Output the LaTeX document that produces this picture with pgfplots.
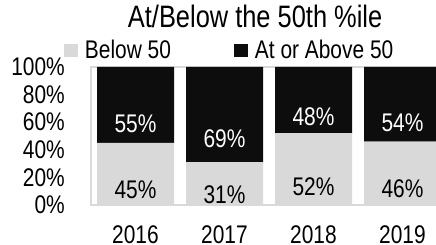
\documentclass[border=0pt]{standalone}
\usepackage{pgfplots}
\pgfplotsset{compat=1.18}
\usepackage{pgfplotstable}
\usepackage{fontspec}
\setmainfont{Liberation Sans}[FakeStretch=0.82]
\definecolor{lgray}{HTML}{D9D9D9}
\definecolor{dblack}{HTML}{0D0D0D}
\definecolor{framegray}{HTML}{D9D9D9}
\newcommand\lab{\fontsize{25.5}{28}\selectfont}
\newcommand\ttl{\fontsize{31}{34}\selectfont}
\pgfplotstableread{
x below above
0 45 55
1 31 69
2 52 48
3 46 54
}\data
\begin{document}
\begin{tikzpicture}
\begin{axis}[
  at={(91pt,40pt)}, anchor=south west,
  scale only axis, width=356pt, height=138pt,
  xmin=-0.5, xmax=3.5, ymin=0, ymax=100,
  ybar stacked, bar width=77pt,
  /pgf/number format/assume math mode=true,
  xtick={0,1,2,3}, xticklabels={2016,2017,2018,2019},
  ytick={0,20,40,60,80,100},
  yticklabel={\pgfmathprintnumber{\tick}\%},
  major tick length=0pt,
  tick label style={font=\lab},
  y tick label style={inner sep=0pt, anchor=east, xshift=-26pt},
  x tick label style={inner sep=0pt, anchor=north, yshift=-20pt},
  axis line style={draw=framegray, line width=1.8pt},
  title={At/Below the 50th \%ile},
  title style={at={(0.461,1.246)}, anchor=base, font=\ttl, inner sep=0pt},
  legend columns=2,
  legend style={at={(-0.085,1.12)}, anchor=west, draw=none, fill=none, font=\lab,
    nodes={inner sep=1pt},
    /tikz/every odd column/.append style={column sep=6pt},
    /tikz/every even column/.append style={column sep=62pt}},
  clip=false,
  point meta=rawy,
  visualization depends on={rawy\as\seg},
  nodes near coords={\pgfmathprintnumber{\pgfplotspointmeta}\%},
]
\addplot[fill=lgray, draw=none,
  legend image code/.code={\fill[lgray] (0pt,-6.5pt) rectangle (14pt,6.5pt);},
  every node near coord/.style={anchor=center, font=\lab, text=black, yshift=-\seg*0.345pt}]
  table[x=x, y=below]{\data};
\addlegendentry{Below 50}
\addplot[fill=dblack, draw=none,
  legend image code/.code={\fill[dblack] (0pt,-6.5pt) rectangle (14pt,6.5pt);},
  every node near coord/.style={anchor=center, font=\lab, text=white, yshift=-\seg*0.345pt}]
  table[x=x, y=above]{\data};
\addlegendentry{At or Above 50}
\end{axis}
\pgfresetboundingbox
\path[use as bounding box] (0pt,0pt) rectangle (436pt,245pt);
\end{tikzpicture}
\end{document}
